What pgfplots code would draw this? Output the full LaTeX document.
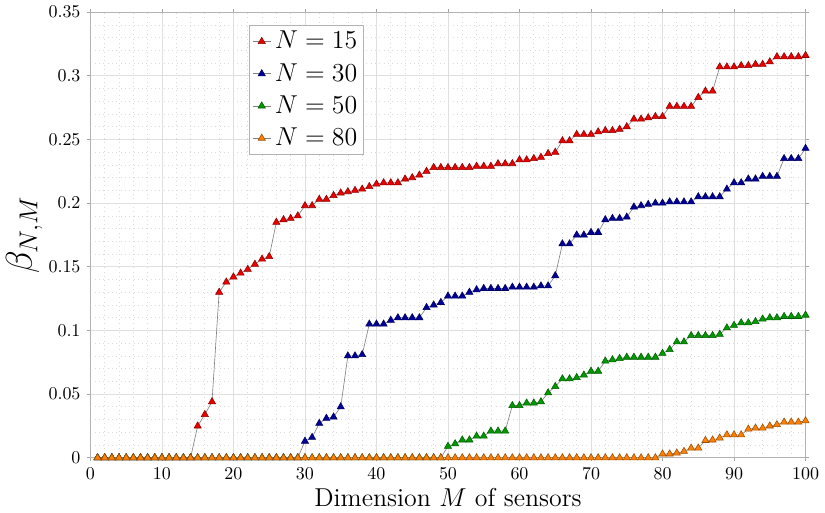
\documentclass[border=0pt]{standalone}
\usepackage{pgfplots}
\usepackage{pgfplotstable}
\pgfplotsset{compat=1.18}
\definecolor{cred}{rgb}{0.92,0,0}
\definecolor{cblue}{rgb}{0,0,0.6}
\definecolor{cgreen}{rgb}{0,0.6,0}
\definecolor{corange}{rgb}{1,0.5,0}
\pgfplotstableread{
M a b c d
1 0 0 0 0
2 0 0 0 0
3 0 0 0 0
4 0 0 0 0
5 0 0 0 0
6 0 0 0 0
7 0 0 0 0
8 0 0 0 0
9 0 0 0 0
10 0 0 0 0
11 0 0 0 0
12 0 0 0 0
13 0 0 0 0
14 0 0 0 0
15 0.025 0 0 0
16 0.034 0 0 0
17 0.044 0 0 0
18 0.130 0 0 0
19 0.138 0 0 0
20 0.142 0 0 0
21 0.145 0 0 0
22 0.148 0 0 0
23 0.152 0 0 0
24 0.156 0 0 0
25 0.158 0 0 0
26 0.185 0 0 0
27 0.187 0 0 0
28 0.188 0 0 0
29 0.190 0 0 0
30 0.198 0.013 0 0
31 0.198 0.016 0 0
32 0.203 0.027 0 0
33 0.203 0.031 0 0
34 0.206 0.032 0 0
35 0.208 0.040 0 0
36 0.209 0.080 0 0
37 0.210 0.080 0 0
38 0.211 0.081 0 0
39 0.213 0.105 0 0
40 0.215 0.105 0 0
41 0.216 0.105 0 0
42 0.216 0.108 0 0
43 0.216 0.110 0 0
44 0.219 0.110 0 0
45 0.220 0.110 0 0
46 0.222 0.110 0 0
47 0.225 0.118 0 0
48 0.228 0.120 0 0
49 0.228 0.122 0 0
50 0.228 0.127 0.009 0
51 0.228 0.127 0.011 0
52 0.228 0.127 0.014 0
53 0.228 0.130 0.014 0
54 0.229 0.132 0.017 0
55 0.229 0.133 0.017 0
56 0.229 0.133 0.021 0
57 0.231 0.133 0.021 0
58 0.231 0.133 0.021 0
59 0.231 0.134 0.041 0
60 0.234 0.134 0.041 0
61 0.234 0.134 0.043 0
62 0.235 0.134 0.043 0
63 0.236 0.135 0.044 0
64 0.239 0.135 0.051 0
65 0.240 0.143 0.056 0
66 0.249 0.168 0.062 0
67 0.249 0.168 0.062 0
68 0.254 0.175 0.063 0
69 0.254 0.175 0.065 0
70 0.254 0.177 0.068 0
71 0.256 0.177 0.068 0
72 0.257 0.187 0.076 0
73 0.257 0.188 0.077 0
74 0.258 0.188 0.078 0
75 0.260 0.189 0.079 0
76 0.266 0.197 0.079 0
77 0.266 0.198 0.079 0
78 0.267 0.199 0.079 0
79 0.268 0.200 0.079 0
80 0.268 0.200 0.082 0.003
81 0.276 0.201 0.085 0.003
82 0.276 0.201 0.091 0.0037
83 0.276 0.201 0.091 0.005
84 0.276 0.201 0.096 0.0076
85 0.283 0.205 0.096 0.0076
86 0.288 0.205 0.096 0.0136
87 0.288 0.205 0.096 0.014
88 0.307 0.205 0.097 0.0155
89 0.307 0.211 0.102 0.018
90 0.307 0.216 0.104 0.018
91 0.308 0.216 0.106 0.018
92 0.308 0.219 0.106 0.0225
93 0.309 0.219 0.107 0.0233
94 0.309 0.221 0.109 0.0233
95 0.311 0.221 0.110 0.025
96 0.315 0.221 0.110 0.026
97 0.315 0.235 0.111 0.028
98 0.315 0.235 0.111 0.028
99 0.315 0.235 0.111 0.028
100 0.316 0.243 0.112 0.029
}\datatable
\begin{document}
\begin{tikzpicture}
\begin{axis}[
  scale only axis,
  width=398pt, height=248pt,
  xmin=0, xmax=100, ymin=0, ymax=0.35,
  xtick={0,10,20,30,40,50,60,70,80,90,100},
  ytick={0,0.05,0.1,0.15,0.2,0.25,0.3,0.35},
  yticklabels={0,0.05,0.1,0.15,0.2,0.25,0.3,0.35},
  scaled y ticks=false,
  minor tick num=4,
  grid=both,
  major grid style={gray!25, line width=0.4pt},
  minor grid style={gray!28, dotted, line width=0.4pt},
  axis line style={gray!60},
  tick style={gray!70, line width=0.4pt},
  tick align=outside,
  major tick length=2pt,
  minor tick length=0pt,
  xlabel={\Large Dimension $M$ of sensors},
  ylabel={\huge $\beta_{N,M}$},
  xlabel style={yshift=2pt},
  ylabel style={yshift=-3.5pt},
  legend style={at={(0.222,0.972)}, anchor=north west, font=\Large,
    draw=gray!60, inner sep=1.5pt, row sep=2.6pt},
  legend cell align=left,
  legend image code/.code={%
    \draw[mark repeat=2, mark phase=2]
      plot coordinates {(0cm,0cm) (0.18cm,0cm) (0.36cm,0cm)};},
]
\addplot[gray, line width=0.35pt, mark=triangle*, mark size=2.3pt,
  mark options={fill=cred, draw=cred!60!black, line width=0.3pt}]
  table[x=M, y=a] {\datatable};
\addlegendentry{$N=15$}
\addplot[gray, line width=0.35pt, mark=triangle*, mark size=2.3pt,
  mark options={fill=cblue, draw=cblue!60!black, line width=0.3pt}]
  table[x=M, y=b] {\datatable};
\addlegendentry{$N=30$}
\addplot[gray, line width=0.35pt, mark=triangle*, mark size=2.3pt,
  mark options={fill=cgreen, draw=cgreen!60!black, line width=0.3pt}]
  table[x=M, y=c] {\datatable};
\addlegendentry{$N=50$}
\addplot[gray, line width=0.35pt, mark=triangle*, mark size=2.3pt,
  mark options={fill=corange, draw=corange!60!black, line width=0.3pt}]
  table[x=M, y=d] {\datatable};
\addlegendentry{$N=80$}
\end{axis}
\end{tikzpicture}
\end{document}
